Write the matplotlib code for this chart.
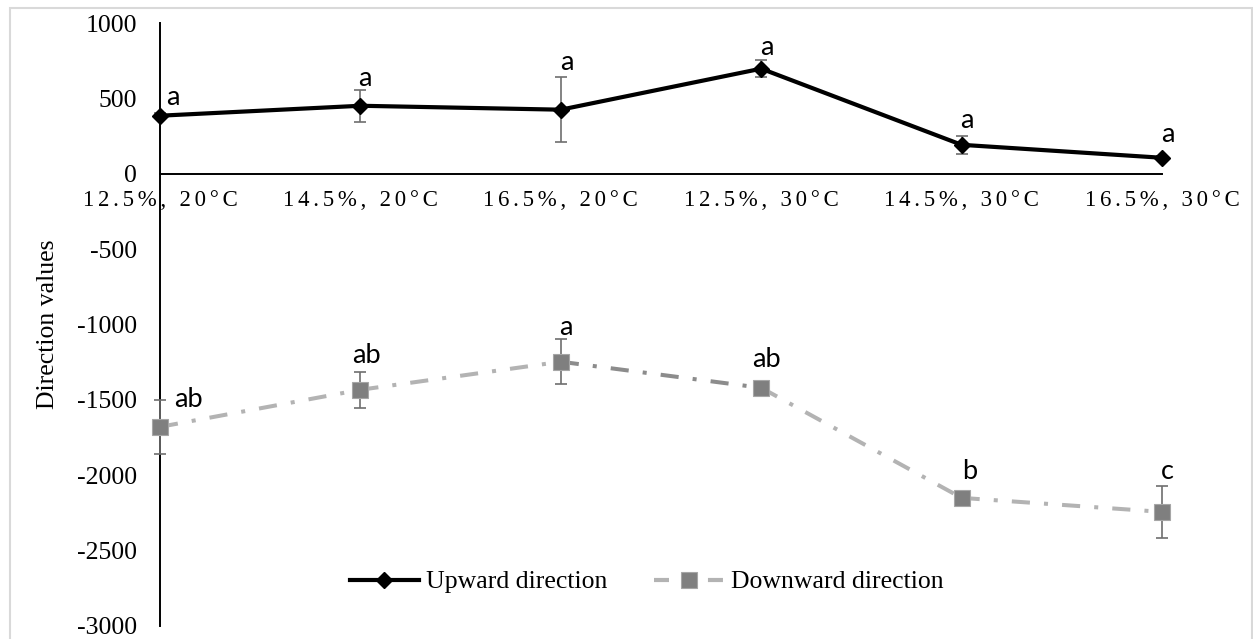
import numpy as np
import matplotlib
matplotlib.use("Agg")
import matplotlib.pyplot as plt
from matplotlib.patches import Rectangle
from matplotlib.lines import Line2D

## chart data
categories = ["12.5%, 20°C", "14.5%, 20°C", "16.5%, 20°C",
              "12.5%, 30°C", "14.5%, 30°C", "16.5%, 30°C"]
upward = [385, 451, 425, 697, 192, 106]
upward_err = [15, 105, 215, 56, 60, 10]
downward = [-1679, -1433, -1247, -1420, -2150, -2243]
downward_err = [180, 120, 150, 10, 10, 173]
upward_letters = ["a", "a", "a", "a", "a", "a"]
downward_letters = ["ab", "ab", "a", "ab", "b", "c"]

## where the letters sit relative to their point (pixels)
up_offsets = [(13, 11), (4, 20), (6, 40), (6, 14), (5, 17), (6, 16)]
down_offsets = [(28, 20), (6, 27), (5, 27), (5, 21), (8, 19), (5, 33)]
## excel drew one segment of the downward line darker
seg_colors = ["#B3B3B3", "#B3B3B3", "#8C8C8C", "#B3B3B3", "#B3B3B3"]

plt.rcParams['font.family'] = ['Liberation Serif', 'DejaVu Serif']
plt.rcParams['axes.unicode_minus'] = False

W, H = 1253, 639
fig = plt.figure(figsize=(W / 100, H / 100), dpi=100)
ax = fig.add_axes([160 / W, 1 - 626 / H, 1002 / W, 603 / H])

x = np.arange(len(categories))

## downward series, one segment at a time so the colours can differ
for i in range(len(x) - 1):
    ax.plot(x[i:i + 2], downward[i:i + 2], color=seg_colors[i], lw=2.9,
            ls=(0, (4.5, 3.5, 1, 3.5)), dash_capstyle='butt', zorder=2, clip_on=False)
ax.errorbar(x, downward, yerr=downward_err, fmt='none', ecolor='#6E6E6E',
            elinewidth=1.2, capsize=4.3, capthick=1.2, zorder=3, clip_on=False)
ax.plot(x, downward, 's', ms=12, color='#7F7F7F', mec='#A6A6A6', mew=0.8,
        zorder=4, clip_on=False)

## upward series
ax.errorbar(x, upward, yerr=upward_err, fmt='none', ecolor='#6E6E6E',
            elinewidth=1.2, capsize=4.3, capthick=1.2, zorder=3, clip_on=False)
ax.plot(x, upward, color='black', lw=3, marker='D', ms=8.5, zorder=5, clip_on=False)

## letters
for xi, yi, t, off in zip(x, upward, upward_letters, up_offsets):
    ax.annotate(t, (xi, yi), xytext=off, textcoords='offset pixels', ha='center',
                va='baseline', fontsize=19.5, family=['Lato', 'DejaVu Sans'])
for xi, yi, t, off in zip(x, downward, downward_letters, down_offsets):
    ax.annotate(t, (xi, yi), xytext=off, textcoords='offset pixels', ha='center',
                va='baseline', fontsize=19.5, family=['Lato', 'DejaVu Sans'])

## axes
ax.set_xlim(0, 5)
ax.set_ylim(-3000, 1000)
ax.set_yticks(np.arange(-3000, 1001, 500))
ax.set_xticks(x)
## the category labels are letter-spaced in the original
ax.set_xticklabels(["\u200a\u200a".join(c) for c in categories])
ax.spines['top'].set_visible(False)
ax.spines['right'].set_visible(False)
ax.spines['bottom'].set_position(('data', 0))
for s in ['left', 'bottom']:
    ax.spines[s].set_linewidth(1.4)
    ax.spines[s].set_color('black')
ax.tick_params(axis='y', length=0, pad=16.5, labelsize=18.5)
ax.tick_params(axis='x', length=0, pad=12, labelsize=16.5)
ax.set_ylabel("Direction values", fontsize=18.5)
ax.yaxis.set_label_coords(-101 / 1002, 0.5)
ax.patch.set_visible(False)

## legend
h_up = Line2D([], [], color='black', lw=3, marker='D', ms=8.5)
h_down = Line2D([], [], color='#B3B3B3', lw=3, ls=(0, (3.6, 9.35)), marker='s',
                ms=12, mfc='#7F7F7F', mec='#A6A6A6', mew=0.8)
fig.legend([h_up, h_down], ["Upward direction", "Downward direction"], ncol=2,
           loc='center', bbox_to_anchor=(646.5 / W, 1 - 582 / H), frameon=False,
           fontsize=18.5, handlelength=2.72, handletextpad=0.27, columnspacing=1.8)

## light chart-area border
fig.patches.append(Rectangle((9.5 / W, -0.05), (1252 - 9.5) / W, 1 - 7.5 / H + 0.05,
                             transform=fig.transFigure, fill=False, ec='#D9D9D9', lw=1.5))

fig.savefig("out.png", dpi=100)
